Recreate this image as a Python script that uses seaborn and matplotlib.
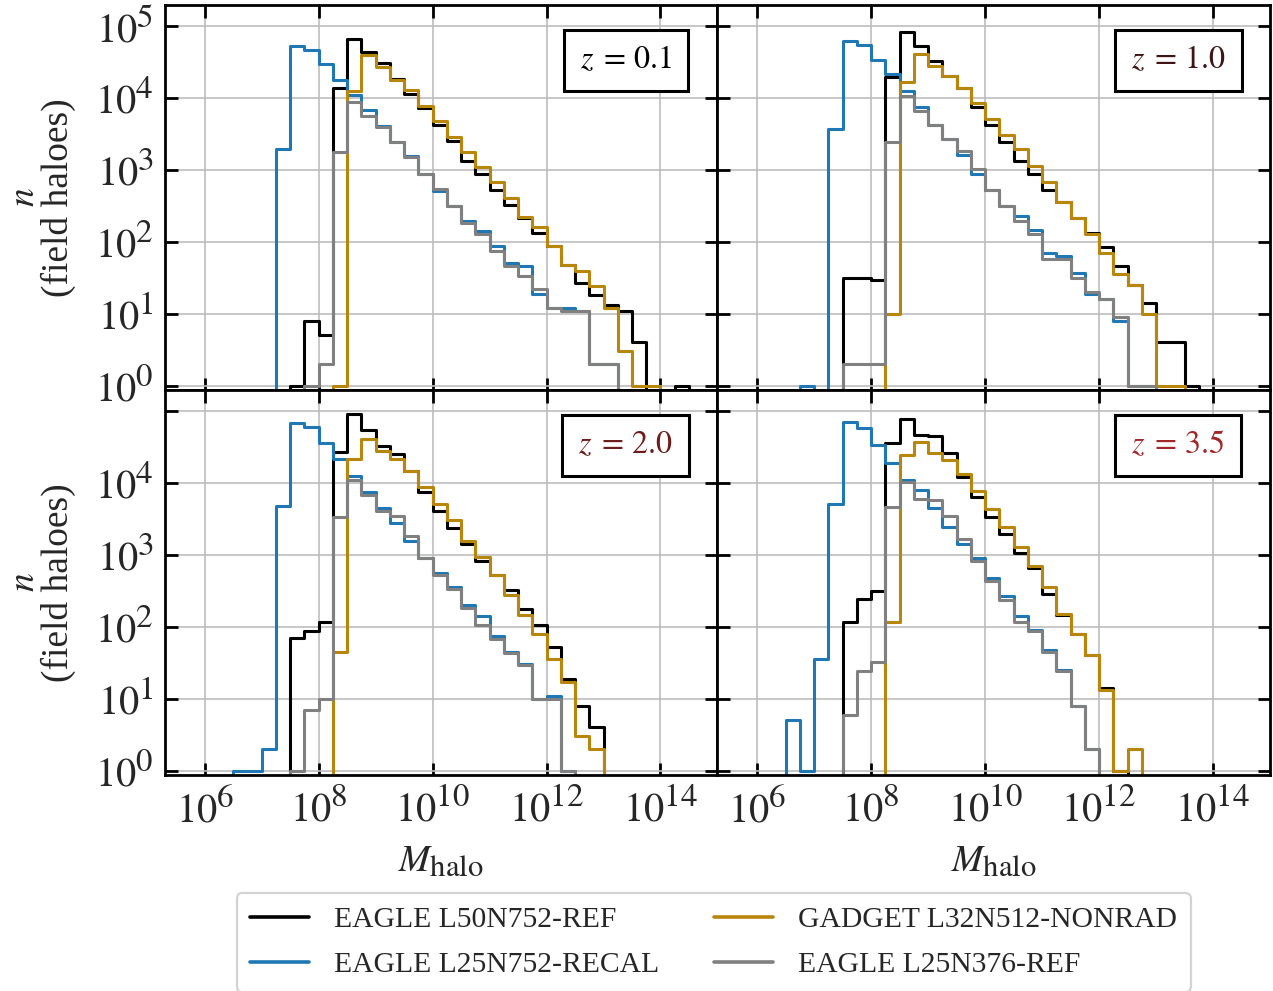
import numpy as np
import matplotlib
matplotlib.use("Agg")
import matplotlib.pyplot as plt
import matplotlib._mathtext as _mathtext
from matplotlib.lines import Line2D
import seaborn as sns

sns.set_style("ticks")
plt.rcParams["font.family"] = ["Liberation Serif", "DejaVu Serif"]
plt.rcParams["mathtext.fontset"] = "stix"
# larger super/subscripts in the power-of-ten labels
_mathtext.SHRINK_FACTOR = 0.82

# Halo-mass bins: 0.25 dex wide, lower edges from 10^6 upwards
LOG_M_START = 6.0
BIN_WIDTH = 0.25
N_BINS = 35
log_m_low = LOG_M_START + BIN_WIDTH * np.arange(N_BINS)
bin_centres = 10 ** (log_m_low + BIN_WIDTH / 2)

redshift_labels = ["0.1", "1.0", "2.0", "3.5"]
redshift_colors = ["#000000", "#3e1414", "#6e1c1c", "#a02828"]

series_labels = ["EAGLE L50N752-REF", "EAGLE L25N752-RECAL",
                 "GADGET L32N512-NONRAD", "EAGLE L25N376-REF"]
series_colors = ["#000000", "#1f77b4", "#b8860b", "#808080"]

# Field-halo counts per bin (bin i spans 10^(6+0.25 i) .. 10^(6.25+0.25 i))
ref_l50_z01   = [0, 0, 0, 0, 0, 0, 1, 8, 5, 13800, 66500, 43500, 30000, 18500, 11400, 7200, 4250, 2520, 1340, 870, 520, 325, 215, 132, 87, 48, 27, 18, 13, 11, 4, 0, 0, 1, 0]
recal_z01     = [0, 0, 0, 0, 0, 1940, 52000, 45600, 29700, 17900, 11000, 6800, 4100, 2400, 1560, 870, 510, 316, 197, 141, 87, 50, 46, 19, 12, 12, 11, 2, 2, 0, 0, 0, 0, 0, 0]
nonrad_z01    = [0, 0, 0, 0, 0, 0, 0, 0, 0, 1, 12600, 39000, 27000, 17400, 13000, 7600, 4800, 2830, 1750, 1080, 670, 400, 217, 162, 87, 48, 39, 24, 12, 3, 1, 1, 0, 0, 0]
ref_l25_z01   = [0, 0, 0, 0, 0, 0, 0, 1, 2, 1750, 8700, 5650, 3900, 2400, 1520, 870, 540, 316, 183, 126, 74, 46, 33, 22, 12, 11, 11, 2, 2, 0, 0, 0, 0, 0, 0]

ref_l50_z10   = [0, 0, 0, 0, 0, 0, 31, 31, 29, 19400, 81000, 52500, 32400, 19900, 13800, 7400, 4250, 2400, 1340, 870, 520, 357, 215, 134, 85, 46, 25, 14, 4, 4, 1, 0, 0, 0, 0]
recal_z10     = [0, 0, 0, 1, 0, 3700, 62000, 53500, 34000, 21300, 12600, 7400, 4230, 2700, 1620, 870, 522, 315, 228, 144, 70, 63, 37, 19, 16, 8, 1, 1, 0, 0, 0, 0, 0, 0, 0]
nonrad_z10    = [0, 0, 0, 0, 0, 0, 0, 0, 0, 10, 16600, 41000, 27700, 19900, 13800, 8500, 5100, 3070, 1950, 1110, 670, 357, 215, 126, 70, 36, 25, 10, 1, 1, 0, 0, 0, 0, 0]
ref_l25_z10   = [0, 0, 0, 0, 0, 0, 2, 2, 2, 2400, 10500, 6450, 4230, 2700, 1800, 1020, 522, 315, 195, 126, 58, 57, 31, 20, 16, 9, 1, 1, 0, 0, 0, 0, 0, 0, 0]

ref_l50_z20   = [0, 0, 0, 0, 0, 0, 69, 88, 116, 26700, 89700, 53500, 32000, 25300, 14500, 7400, 4000, 2340, 1420, 815, 520, 322, 178, 105, 52, 19, 8, 4, 0, 0, 0, 0, 0, 0, 0]
recal_z20     = [0, 0, 1, 1, 2, 4700, 68000, 60000, 36000, 21300, 12600, 7400, 4450, 2800, 1560, 910, 550, 357, 203, 143, 74, 44, 30, 10, 11, 1, 0, 0, 0, 0, 0, 0, 0, 0, 0]
nonrad_z20    = [0, 0, 0, 0, 0, 0, 0, 0, 0, 45, 21500, 41000, 28000, 21500, 14500, 8700, 5100, 3030, 1560, 930, 520, 280, 144, 80, 36, 17, 3, 2, 0, 0, 0, 0, 0, 0, 0]
ref_l25_z20   = [0, 0, 0, 0, 0, 0, 1, 7, 10, 3300, 11000, 6800, 4100, 3500, 1830, 910, 530, 330, 182, 105, 68, 43, 29, 10, 10, 1, 0, 0, 0, 0, 0, 0, 0, 0, 0]

ref_l50_z35   = [0, 0, 0, 0, 0, 0, 116, 240, 310, 36000, 78000, 46000, 44500, 25800, 12000, 6300, 3300, 1950, 1070, 660, 285, 147, 79, 40, 14, 1, 0, 0, 0, 0, 0, 0, 0, 0, 0]
recal_z35     = [0, 0, 5, 1, 36, 5000, 69000, 58500, 34000, 19000, 11000, 7900, 4450, 2400, 1420, 890, 480, 265, 140, 91, 47, 25, 8, 2, 0, 0, 0, 0, 0, 0, 0, 0, 0, 0, 0]
nonrad_z35    = [0, 0, 0, 0, 0, 0, 0, 0, 0, 116, 24000, 37000, 25800, 21000, 13200, 7800, 4300, 2450, 1290, 695, 355, 150, 79, 40, 13, 1, 2, 0, 0, 0, 0, 0, 0, 0, 0]
ref_l25_z35   = [0, 0, 0, 0, 0, 0, 6, 24, 32, 4540, 10200, 5900, 5800, 3500, 1650, 815, 430, 238, 116, 86, 45, 24, 8, 2, 0, 0, 0, 0, 0, 0, 0, 0, 0, 0, 0]

panel_counts = [
    [ref_l50_z01, recal_z01, nonrad_z01, ref_l25_z01],
    [ref_l50_z10, recal_z10, nonrad_z10, ref_l25_z10],
    [ref_l50_z20, recal_z20, nonrad_z20, ref_l25_z20],
    [ref_l50_z35, recal_z35, nonrad_z35, ref_l25_z35],
]

x_ticks = [1e6, 1e8, 1e10, 1e12, 1e14]
x_ticklabels = [r"$10^{6}$", r"$10^{8}$", r"$10^{10}$", r"$10^{12}$", r"$10^{14}$"]
y_ticks = [1e0, 1e1, 1e2, 1e3, 1e4, 1e5]
y_ticklabels = [r"$10^{0}$", r"$10^{1}$", r"$10^{2}$", r"$10^{3}$", r"$10^{4}$", r"$10^{5}$"]

LW = 2.2
TICK_FS = 29
LABEL_FS = 27

fig, axes = plt.subplots(2, 2, figsize=(12.73, 9.91), dpi=100)
fig.subplots_adjust(left=0.1296, right=0.9976, top=0.995, bottom=0.218,
                    wspace=0, hspace=0)

for k, ax in enumerate(axes.flat):
    for counts, color in zip(panel_counts[k], series_colors):
        sns.histplot(x=bin_centres, weights=counts, binwidth=BIN_WIDTH,
                     binrange=(LOG_M_START, LOG_M_START + N_BINS * BIN_WIDTH),
                     element="step", fill=False, color=color, linewidth=LW,
                     log_scale=True, ax=ax)
    # empty bins fall off the bottom of the log axis
    ax.set_yscale("log", nonpositive="clip")
    ax.set_xlim(2e5, 1e15)
    ax.set_ylim(0.87, 1.95e5)
    ax.set_xticks(x_ticks, labels=x_ticklabels)
    ylabs = list(y_ticklabels)
    if k == 2:
        ylabs[-1] = ""
    ax.set_yticks(y_ticks, labels=ylabs)
    ax.minorticks_off()
    ax.set_axisbelow(True)
    ax.grid(True, which="major", color="#bdbdbd", linewidth=1.2)
    ax.tick_params(axis="both", which="major", direction="in", top=True,
                   right=True, length=9, width=2, labelsize=TICK_FS,
                   color="black")
    ax.tick_params(axis="y", pad=8)
    ax.tick_params(axis="x", pad=10)
    for sp in ax.spines.values():
        sp.set_linewidth(2)
        sp.set_color("black")
    row, col = divmod(k, 2)
    if row == 0:
        ax.tick_params(labelbottom=False)
        ax.set_xlabel("")
    else:
        ax.set_xlabel(r"$M_{\rm halo}$", fontsize=LABEL_FS, labelpad=10)
    if col == 1:
        ax.tick_params(labelleft=False)
        ax.set_ylabel("")
    else:
        ax.set_ylabel("$n$\n(field haloes)", fontsize=LABEL_FS,
                      labelpad=14, linespacing=0.95)
    ax.text(0.834, 0.856, rf"$z\;=\,{redshift_labels[k]}$",
            transform=ax.transAxes, ha="center", va="center",
            fontsize=23, color=redshift_colors[k], zorder=5,
            bbox=dict(boxstyle="square,pad=0.5", facecolor="white",
                      edgecolor="black", linewidth=2.2))

handles = [Line2D([], [], color=c, linewidth=2.6) for c in series_colors]
leg = fig.legend(handles, series_labels, loc="upper center",
                 bbox_to_anchor=(0.5605, 0.099), ncol=2, fontsize=21.3,
                 frameon=True, fancybox=True, edgecolor="#c8c8c8",
                 handlelength=2.0, handletextpad=0.85, columnspacing=1.85,
                 labelspacing=0.63, borderpad=0.45, borderaxespad=0)
leg.get_frame().set_linewidth(1.6)

fig.savefig("out.png", dpi=100)
